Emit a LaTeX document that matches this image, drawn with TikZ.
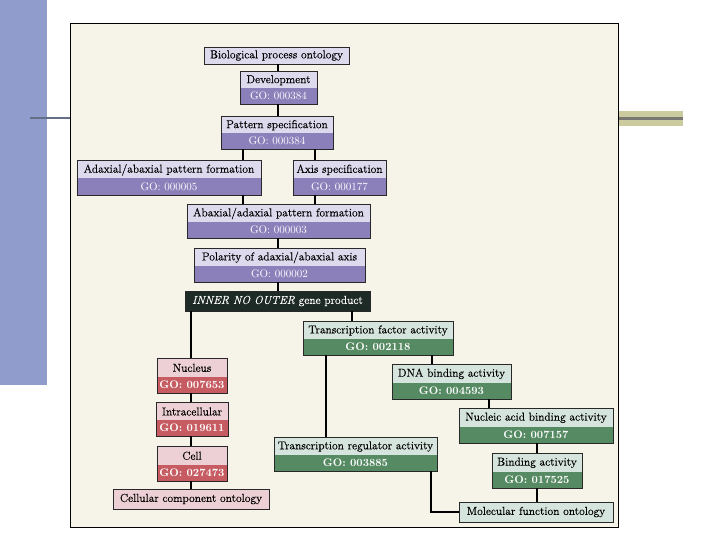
\documentclass[tikz,border=0pt]{standalone}
\usepackage{fontspec}
\setmainfont{Latin Modern Roman}
\newfontfamily\heavyrm{Latin Modern Roman}[FakeBold=0.35]
\definecolor{slideblue}{RGB}{143,156,204}
\definecolor{slideline}{RGB}{100,110,135}
\definecolor{olivebar}{RGB}{204,203,160}
\definecolor{olivegray}{RGB}{120,120,112}
\definecolor{cream}{RGB}{246,244,232}
\definecolor{boxline}{RGB}{40,40,40}
\definecolor{pL}{RGB}{222,218,238}
\definecolor{pD}{RGB}{140,128,186}
\definecolor{gL}{RGB}{214,228,222}
\definecolor{gD}{RGB}{86,138,98}
\definecolor{rL}{RGB}{236,208,214}
\definecolor{rD}{RGB}{198,92,98}
\definecolor{darkbox}{RGB}{30,42,38}
\newcommand\gobox[8]{%
  \fill[#8L] (#2,#3) rectangle (#4,{(#3+#5)/2+1});
  \fill[#8D] (#2,{(#3+#5)/2+1}) rectangle (#4,#5);
  \node[boxframe,minimum width={(#4-#2)*1pt},minimum height={(#5-#3)*1pt}] (#1) at ({(#2+#4)/2},{(#3+#5)/2}) {};
  \node[ttl] at ({(#2+#4)/2},{#3+(#5-#3)*0.28}) {#6};
  \node[gotxt#8] at ({(#2+#4)/2},{#3+(#5-#3)*0.76}) {#7};
}
\newcommand\onebox[7]{%
  \node[boxframe,fill=#7,minimum width={(#4-#2)*1pt},minimum height={(#5-#3)*1pt}] (#1) at ({(#2+#4)/2},{(#3+#5)/2}) {};
  \node[ttl] at (#1.center) {#6};
}
\begin{document}
\begin{tikzpicture}[x=1pt,y=-1pt,
  boxframe/.style={draw=boxline,line width=0.8pt,inner sep=0pt,outer sep=0pt},
  ttl/.style={inner sep=0pt,font=\heavyrm\fontsize{11.5}{13}\selectfont,text=black},
  gotxtp/.style={inner sep=0pt,font=\fontsize{11}{13}\selectfont,text=white!94!pL},
  gotxtg/.style={inner sep=0pt,font=\fontsize{11}{13}\selectfont\bfseries,text=white!94!gL},
  gotxtr/.style={inner sep=0pt,font=\fontsize{11}{13}\selectfont\bfseries,text=white!94!rL},
  conn/.style={line width=2.8pt,black,line cap=butt}]
\useasboundingbox (0,0) rectangle (720,540);
\fill[white] (0,0) rectangle (720,540);
% slide decoration
\fill[slideblue] (0,0) rectangle (47,385);
\draw[slideline,line width=2.2pt] (30,118) -- (70,118);
\fill[olivebar] (619,111) rectangle (683,126);
\draw[olivegray,line width=2.2pt] (619,118.5) -- (683,118.5);
% picture frame
\draw[black,line width=1pt,fill=cream] (70,24) rectangle (618,527);
% guide coordinates for connectors
\coordinate (xA) at (243,0);
\coordinate (xB) at (315,0);
\coordinate (xC) at (191,0);
\coordinate (xD) at (352,0);
\coordinate (xE) at (326,0);
\coordinate (xF) at (432,0);
\coordinate (xG) at (489,0);
\coordinate (xH) at (537,0);
\coordinate (xI) at (278,0);
\coordinate (xK) at (431,0);
% boxes
\onebox{bpo}{204}{47}{349}{64}{Biological process ontology}{pL}
\gobox{dev}{240}{71}{317}{104}{Development}{GO: 000384}{p}
\gobox{pat}{221}{116}{333}{149}{Pattern specification}{GO: 000384}{p}
\gobox{ada}{77}{160}{261}{195}{Adaxial/abaxial pattern formation}{GO: 000005}{p}
\gobox{axi}{293}{160}{386}{195}{Axis specification}{GO: 000177}{p}
\gobox{aba}{187}{204}{370}{238}{Abaxial/adaxial pattern formation}{GO: 000003}{p}
\gobox{pol}{194}{248}{365}{282}{Polarity of adaxial/abaxial axis}{GO: 000002}{p}
\node[boxframe,fill=darkbox,minimum width=185pt,minimum height=20pt] (ino) at (277.5,301) {};
\node[ttl,text=white] at (ino.center) {\textit{INNER NO OUTER} gene product};
\gobox{tfa}{303}{321}{453}{355}{Transcription factor activity}{GO: 002118}{g}
\gobox{dna}{392}{364}{511}{399}{DNA binding activity}{GO: 004593}{g}
\gobox{nuc}{157}{358}{227}{393}{Nucleus}{GO: 007653}{r}
\gobox{itc}{156}{402}{228}{436}{Intracellular}{GO: 019611}{r}
\gobox{cel}{157}{446}{227}{481}{Cell}{GO: 027473}{r}
\onebox{cco}{113}{489}{269}{509}{Cellular component ontology}{rL}
\gobox{nab}{459}{408}{613}{443}{Nucleic acid binding activity}{GO: 007157}{g}
\gobox{tra}{274}{437}{437}{471}{Transcription regulator activity}{GO: 003885}{g}
\gobox{bin}{492}{453}{582}{488}{Binding activity}{GO: 017525}{g}
\onebox{mfo}{459}{502}{613}{522}{Molecular function ontology}{gL}
% connectors
\draw[conn] (bpo.south -| xI) -- (dev.north -| xI);
\draw[conn] (dev.south -| xI) -- (pat.north -| xI);
\draw[conn] (pat.south -| xA) -- (ada.north -| xA);
\draw[conn] (pat.south -| xB) -- (axi.north -| xB);
\draw[conn] (ada.south -| xA) -- (aba.north -| xA);
\draw[conn] (axi.south -| xB) -- (aba.north -| xB);
\draw[conn] (aba.south -| xI) -- (pol.north -| xI);
\draw[conn] (pol.south -| xI) -- (ino.north -| xI);
\draw[conn] (ino.south -| xC) -- (nuc.north -| xC);
\draw[conn] (nuc.south -| xC) -- (itc.north -| xC);
\draw[conn] (itc.south -| xC) -- (cel.north -| xC);
\draw[conn] (cel.south -| xC) -- (cco.north -| xC);
\draw[conn] (ino.south -| xD) -- (tfa.north -| xD);
\draw[conn] (tfa.south -| xF) -- (dna.north -| xF);
\draw[conn] (tfa.south -| xE) -- (tra.north -| xE);
\draw[conn] (dna.south -| xG) -- (nab.north -| xG);
\draw[conn] (nab.south -| xH) -- (bin.north -| xH);
\draw[conn] (bin.south -| xH) -- (mfo.north -| xH);
\draw[conn,line join=miter] (tra.south -| xK) -- (xK |- mfo.west) -- (mfo.west);
\end{tikzpicture}
\end{document}
